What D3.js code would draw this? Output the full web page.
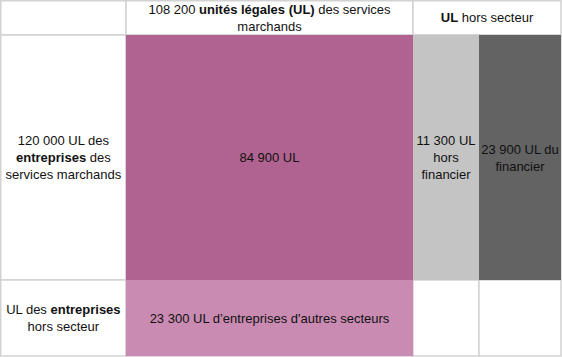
<!DOCTYPE html>
<html>
<head>
<meta charset="utf-8">
<script src="https://cdn.jsdelivr.net/npm/d3@7"></script>
<style>
  html, body { margin: 0; padding: 0; background: #fff; }
  svg { display: block; }
  text { font-family: "Liberation Sans", Arial, sans-serif; font-size: 13px; fill: #111; }
</style>
</head>
<body>
<svg id="chart" width="562" height="357"></svg>
<script>
// ---- data ----
const columnKeys = ["label", "marchands", "horsFinancier", "financier"];
const rowKeys = ["header", "secteur", "horsSecteur"];

const cellColumns = ["marchands", "horsFinancier", "financier", "marchands"];
const cellRows = ["secteur", "secteur", "secteur", "horsSecteur"];
const cellValues = [84900, 11300, 23900, 23300];
const cellSuffixes = [["UL"], ["UL", "hors", "financier"], ["UL du", "financier"], ["UL d\u2019entreprises d'autres secteurs"]];

const headerTotal = 108200;
const rowTotal = 120000;

// ---- layout (geometry) ----
const W = 562, H = 357;
const fmt = d3.formatLocale({ decimal: ",", thousands: " ", grouping: [3], currency: ["", " €"] }).format(",d");

const x = d3.scaleLinear().domain([0, 1, 2, 3, 4]).range([0.75, 126, 413, 479, 561]);
const y = d3.scaleLinear().domain([0, 1, 2, 3]).range([0.75, 35, 280, 356]);
const colIdx = k => columnKeys.indexOf(k);
const rowIdx = k => rowKeys.indexOf(k);

const fills = {
  "marchands|secteur": "#b06390",
  "horsFinancier|secteur": "#c4c4c4",
  "financier|secteur": "#636363",
  "marchands|horsSecteur": "#c98bb2"
};

const svg = d3.select("#chart");

// table grid cells: [col start, col end, row]
const gridCells = [
  [0, 1, 0], [1, 2, 0], [2, 4, 0],
  [0, 1, 1], [1, 2, 1], [2, 3, 1], [3, 4, 1],
  [0, 1, 2], [1, 2, 2], [2, 3, 2], [3, 4, 2]
];
svg.append("g").selectAll("rect").data(gridCells).join("rect")
  .attr("x", d => x(d[0]))
  .attr("y", d => y(d[2]))
  .attr("width", d => x(d[1]) - x(d[0]))
  .attr("height", d => y(d[2] + 1) - y(d[2]))
  .attr("fill", "#fff")
  .attr("stroke", "#d2d2d2")
  .attr("stroke-width", 1.5);

// coloured value cells
const cells = cellValues.map((v, i) => ({
  value: v,
  c: colIdx(cellColumns[i]),
  r: rowIdx(cellRows[i]),
  fill: fills[cellColumns[i] + "|" + cellRows[i]],
  lines: cellSuffixes[i].map((s, j) => j === 0 ? [[fmt(v) + " " + s, false]] : [[s, false]])
}));

svg.append("g").selectAll("rect").data(cells).join("rect")
  .attr("x", d => x(d.c))
  .attr("y", d => y(d.r))
  .attr("width", d => x(d.c + 1) - x(d.c))
  .attr("height", d => y(d.r + 1) - y(d.r))
  .attr("fill", d => d.fill);

// text helper: lines = array of segments [text, bold]
const LH = 17;
function drawLabel(cx, cy, lines) {
  const t = svg.append("text").attr("text-anchor", "middle");
  const n = lines.length;
  lines.forEach((segs, i) => {
    const base = cy - (n - 1) * LH / 2 + i * LH + 4.5;
    segs.forEach((seg, j) => {
      const ts = t.append("tspan").text(seg[0]).attr("font-weight", seg[1] ? "bold" : null);
      if (j === 0) ts.attr("x", cx).attr("y", base);
    });
  });
}

cells.forEach(d => {
  drawLabel((x(d.c) + x(d.c + 1)) / 2, (y(d.r) + y(d.r + 1)) / 2, d.lines);
});

// headers
drawLabel((x(1) + x(2)) / 2, (y(0) + y(1)) / 2, [
  [[fmt(headerTotal) + " ", false], ["unités légales (UL)", true], [" des services", false]],
  [["marchands", false]]
]);
drawLabel((x(2) + x(4)) / 2, (y(0) + y(1)) / 2, [
  [["UL", true], [" hors secteur", false]]
]);
drawLabel((x(0) + x(1)) / 2, (y(1) + y(2)) / 2, [
  [[fmt(rowTotal) + " UL des", false]],
  [["entreprises", true], [" des", false]],
  [["services marchands", false]]
]);
drawLabel((x(0) + x(1)) / 2, (y(2) + y(3)) / 2, [
  [["UL des ", false], ["entreprises", true]],
  [["hors secteur", false]]
]);
</script>
</body>
</html>
